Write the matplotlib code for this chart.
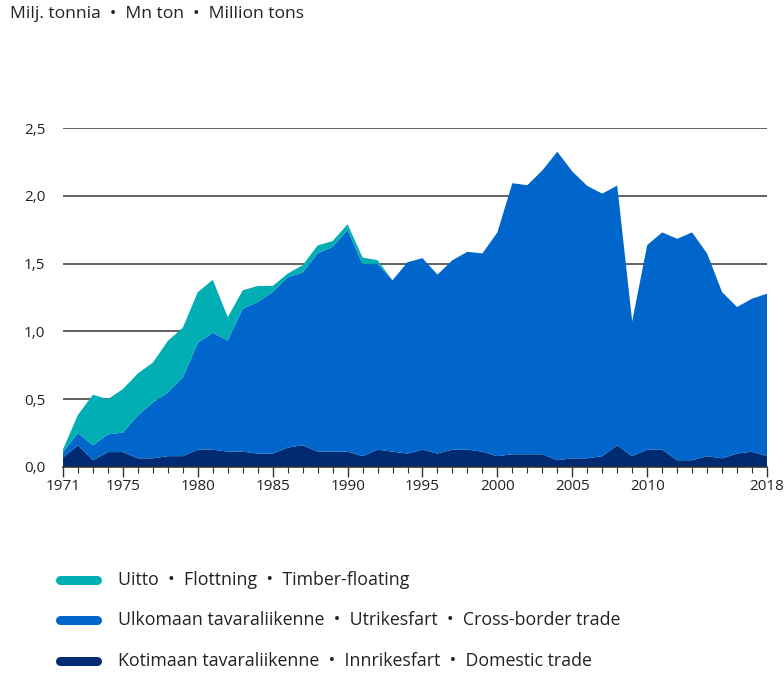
"""Finnish inland/sea transport volumes 1971-2018, stacked area chart."""
import numpy as np
import matplotlib
matplotlib.use("Agg")
import matplotlib.pyplot as plt
from matplotlib.ticker import FixedLocator, FuncFormatter

plt.rcParams["font.family"] = ["Open Sans", "DejaVu Sans"]

years = list(range(1971, 2019))
domestic = [0.07, 0.16, 0.05, 0.11, 0.11, 0.064, 0.064, 0.08, 0.08, 0.128,
            0.128, 0.113, 0.113, 0.099, 0.099, 0.143, 0.16, 0.113, 0.113, 0.113,
            0.08, 0.128, 0.113, 0.099, 0.128, 0.099, 0.128, 0.128, 0.113, 0.08,
            0.094, 0.094, 0.094, 0.05, 0.064, 0.064, 0.08, 0.16, 0.08, 0.128,
            0.128, 0.05, 0.05, 0.08, 0.064, 0.099, 0.113, 0.08]
# top of the cross-border layer (domestic + cross-border)
cross_top = [0.11, 0.25, 0.16, 0.24, 0.254, 0.38, 0.476, 0.55, 0.66, 0.915,
             0.99, 0.933, 1.167, 1.217, 1.29, 1.40, 1.434, 1.575, 1.624, 1.747,
             1.496, 1.496, 1.377, 1.51, 1.54, 1.419, 1.525, 1.587, 1.575, 1.73,
             2.093, 2.078, 2.187, 2.325, 2.18, 2.073, 2.016, 2.075, 1.074, 1.636,
             1.73, 1.683, 1.73, 1.575, 1.29, 1.18, 1.241, 1.278]
# total including timber-floating
total = [0.13, 0.385, 0.533, 0.50, 0.575, 0.69, 0.77, 0.93, 1.027, 1.29,
         1.38, 1.105, 1.303, 1.335, 1.335, 1.426, 1.488, 1.634, 1.666, 1.79,
         1.545, 1.525, 1.377, 1.51, 1.54, 1.419, 1.525, 1.587, 1.575, 1.73,
         2.093, 2.078, 2.187, 2.325, 2.18, 2.073, 2.016, 2.075, 1.074, 1.636,
         1.73, 1.683, 1.73, 1.575, 1.29, 1.18, 1.241, 1.278]

cross = [c - d for c, d in zip(cross_top, domestic)]
timber = [t - c for t, c in zip(total, cross_top)]

labels = ["Uitto  •  Flottning  •  Timber-floating",
          "Ulkomaan tavaraliikenne  •  Utrikesfart  •  Cross-border trade",
          "Kotimaan tavaraliikenne  •  Innrikesfart  •  Domestic trade"]
colors = ["#00AEB3", "#0066CC", "#002B72"]
major_years = [1971, 1975, 1980, 1985, 1990, 1995, 2000, 2005, 2010, 2018]

fig = plt.figure(figsize=(7.84, 6.74), dpi=100)
ax = fig.add_axes([63 / 784, 1 - 467 / 674, (767 - 63) / 784, (467 - 128) / 674])

ax.stackplot(years, domestic, cross, timber,
             colors=[colors[2], colors[1], colors[0]], linewidth=0, zorder=2)

for yv in [0.5, 1.0, 1.5, 2.0, 2.5]:
    ax.axhline(yv, color="#555555", lw=1.3, zorder=1)

ax.set_xlim(1971, 2018)
ax.set_ylim(0, 2.5)
for s in ["top", "right", "left"]:
    ax.spines[s].set_visible(False)
ax.spines["bottom"].set_color("#333333")
ax.spines["bottom"].set_linewidth(1.2)
ax.spines["bottom"].set_zorder(3)

ax.xaxis.set_major_locator(FixedLocator(major_years))
ax.xaxis.set_minor_locator(FixedLocator(years))
ax.tick_params(axis="x", which="major", length=7, width=1, color="#333333",
               labelsize=11, labelcolor="#222222", pad=2)
ax.tick_params(axis="x", which="minor", length=4, width=0.8, color="#333333")
ax.set_yticks([0, 0.5, 1.0, 1.5, 2.0, 2.5])
ax.yaxis.set_major_formatter(FuncFormatter(lambda v, p: f"{v:.1f}".replace(".", ",")))
ax.tick_params(axis="y", length=0, labelsize=11, labelcolor="#222222", pad=28)
for lab in ax.get_yticklabels():
    lab.set_horizontalalignment("left")

fig.text(10 / 784, 1 - 14 / 674, "Milj. tonnia  •  Mn ton  •  Million tons",
         fontsize=12.6, color="#222222", va="center", ha="left")

# legend below the plot
leg_y = [580, 620, 661]
for lab, col, py in zip(labels, colors, leg_y):
    yy = 1 - py / 674
    fig.add_artist(plt.Line2D([60 / 784, 97 / 784], [yy, yy], color=col, lw=6.5,
                              solid_capstyle="round", transform=fig.transFigure))
    fig.text(118 / 784, yy, lab, fontsize=12.8, color="#222222", va="center", ha="left")

fig.savefig("out.png", dpi=100)
